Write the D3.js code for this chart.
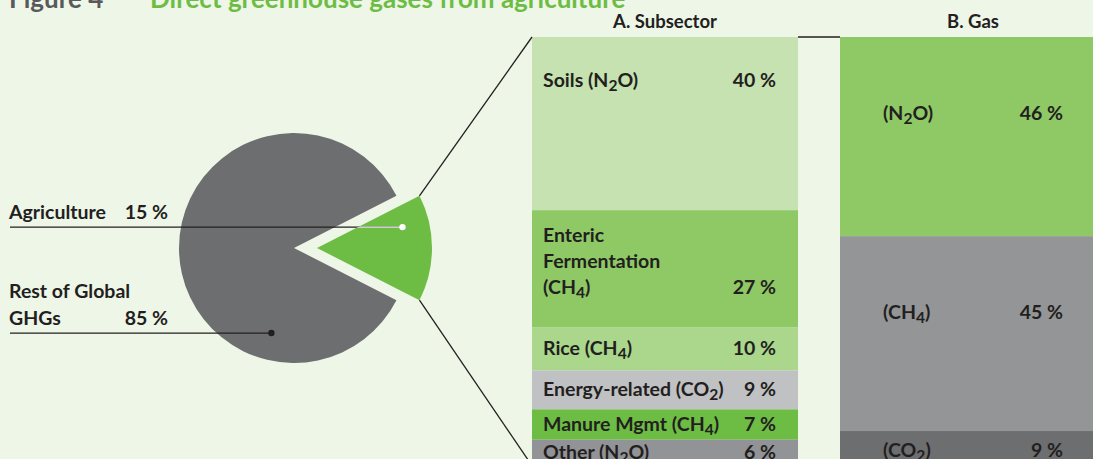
<!DOCTYPE html>
<html lang="en">
<head>
<meta charset="utf-8">
<title>Direct greenhouse gases from agriculture</title>
<script src="https://d3js.org/d3.v7.min.js"></script>
<style>
  body { margin: 0; background: #eef6e8; }
  svg text { font-family: Lato, "Open Sans", sans-serif; font-weight: 700; fill: #231f20; }
</style>
</head>
<body>
<script>
// data
var pieLabels = ["Agriculture", "Rest of Global\nGHGs"];
var pieValues = [15, 85];
var subLabels = ["Soils (N2O)", "Enteric\nFermentation\n(CH4)", "Rice (CH4)", "Energy-related (CO2)", "Manure Mgmt (CH4)", "Other (N2O)"];
var subValues = [40, 27, 10, 9, 7, 6];
var subColors = ["#c5e2b0", "#8ec965", "#aad78c", "#c0c1c3", "#6dbd44", "#929396"];
var gasLabels = ["(N2O)", "(CH4)", "(CO2)"];
var gasValues = [46, 45, 9];
var gasColors = ["#8ec965", "#949597", "#6d6e70"];

var w = 1093, h = 459;
var fs = "19.5px";
var svg = d3.select("body").append("svg").attr("width", w).attr("height", h);

var pct = function(v) { return v + " %"; };

// writes text with digits after a capital letter as subscripts
function richText(sel, str) {
  var parts = str.split(/([A-Z])(\d)/);
  var sub = false;
  parts.forEach(function(p, i) {
    if (p === "") return;
    var isSub = (i % 3 === 2);
    var t = sel.append("tspan").text(p);
    if (isSub) { t.attr("dy", 4).style("font-size", "0.8em"); sub = true; }
    else if (sub) { t.attr("dy", -4); sub = false; }
  });
}

// title
svg.append("text").attr("x", 9).attr("y", 8).style("font-size", "26px").style("fill", "#58595b").text("Figure 4");
svg.append("text").attr("x", 150).attr("y", 8).style("font-size", "26px").style("fill", "#6dbd44").text("Direct greenhouse gases from agriculture");

// pie
var cx = 294, cy = 248, R = 115, pull = 23;
var half = Math.PI * 0.15;
var pie = d3.pie().sort(null).startAngle(Math.PI / 2 - half).endAngle(Math.PI / 2 - half + 2 * Math.PI);
var arcs = pie(pieValues);
var arc = d3.arc().innerRadius(0).outerRadius(R);
var pieColors = ["#6dbd44", "#6d6e70"];
var offsets = arcs.map(function(d, i) {
  if (i > 0) return [cx, cy];
  var m = (d.startAngle + d.endAngle) / 2;
  var p = d3.pointRadial(m, pull);
  return [cx + p[0], cy + p[1]];
});

svg.append("clipPath").attr("id", "agclip").append("path")
  .attr("transform", "translate(" + offsets[0] + ")").attr("d", arc(arcs[0]));

svg.selectAll("path.slice").data(arcs).enter().append("path")
  .attr("class", "slice")
  .attr("transform", function(d, i) { return "translate(" + offsets[i] + ")"; })
  .attr("d", arc)
  .attr("fill", function(d, i) { return pieColors[i]; });

// pie labels with leader lines
var dotAngles = [Math.PI / 2 - 0.24, Math.PI + 0.26];
var dotR = [88, 88];
arcs.forEach(function(d, i) {
  var p = d3.pointRadial(dotAngles[i], dotR[i]);
  var dx = offsets[i][0] + p[0], dy = offsets[i][1] + p[1];
  svg.append("line").attr("x1", 10).attr("x2", dx).attr("y1", dy).attr("y2", dy)
    .attr("stroke", "#231f20").attr("stroke-width", 1.3);
  if (i === 0) {
    svg.append("line").attr("x1", 10).attr("x2", dx).attr("y1", dy).attr("y2", dy)
      .attr("stroke", "#fff").attr("stroke-width", 1.3).attr("clip-path", "url(#agclip)");
  }
  svg.append("circle").attr("cx", dx).attr("cy", dy).attr("r", 3.2)
    .attr("fill", i === 0 ? "#fff" : "#231f20");
  var lines = pieLabels[i].split("\n");
  lines.forEach(function(l, j) {
    svg.append("text").attr("x", 9).attr("y", dy - 8 - (lines.length - 1 - j) * 27)
      .style("font-size", fs).text(l);
  });
  svg.append("text").attr("x", 168).attr("y", dy - 8).attr("text-anchor", "end")
    .style("font-size", fs).text(pct(pieValues[i]));
});

// stacked bars
var y = d3.scaleLinear().domain([0, 100]).range([37, 470]);
var subX0 = 532, subX1 = 798, gasX0 = 840, gasX1 = 1100;

function stack(vals) {
  var acc = 0;
  return vals.map(function(v) { var s = acc; acc += v; return [s, acc]; });
}

function drawBar(labels, vals, colors, x0, x1, cap, header) {
  var st = stack(vals);
  var g = svg.append("g");
  g.selectAll("rect").data(st).enter().append("rect")
    .attr("x", x0).attr("width", x1 - x0)
    .attr("y", function(d) { return y(d[0]); })
    .attr("height", function(d) { return y(d[1]) - y(d[0]); })
    .attr("fill", function(d, i) { return colors[i]; });
  st.forEach(function(d, i) {
    var top = y(d[0]), hh = y(d[1]) - y(d[0]);
    var lines = labels[i].split("\n");
    var base = top + Math.min(hh / 2 + 6, cap - 9 * (lines.length - 1));
    lines.forEach(function(l, j) {
      var t = g.append("text").attr("x", x0 + (cap > 60 ? 43 : 11)).attr("y", base + j * 26).style("font-size", fs);
      richText(t, l);
    });
    g.append("text").attr("x", x0 + (cap > 60 ? 223 : 244)).attr("y", base + (lines.length - 1) * 26)
      .attr("text-anchor", "end").style("font-size", fs).text(pct(vals[i]));
  });
  svg.append("text").attr("x", header[1]).attr("y", 28).attr("text-anchor", "middle")
    .style("font-size", "18.5px").text(header[0]);
}

drawBar(subLabels, subValues, subColors, subX0, subX1, 50, ["A. Subsector", 665]);
drawBar(gasLabels, gasValues, gasColors, gasX0, gasX1, 83, ["B. Gas", 973]);

// connectors from pie wedge to subsector bar
var a0 = d3.pointRadial(arcs[0].startAngle, R), a1 = d3.pointRadial(arcs[0].endAngle, R);
var total = d3.sum(subValues);
svg.append("line").attr("x1", offsets[0][0] + a0[0]).attr("y1", offsets[0][1] + a0[1])
  .attr("x2", subX0).attr("y2", y(0)).attr("stroke", "#231f20").attr("stroke-width", 1.3);
svg.append("line").attr("x1", offsets[0][0] + a1[0]).attr("y1", offsets[0][1] + a1[1])
  .attr("x2", subX0).attr("y2", y(total)).attr("stroke", "#231f20").attr("stroke-width", 1.3);
svg.append("line").attr("x1", subX1).attr("x2", gasX0).attr("y1", y(0)).attr("y2", y(0))
  .attr("stroke", "#231f20").attr("stroke-width", 1.3);
</script>
</body>
</html>
